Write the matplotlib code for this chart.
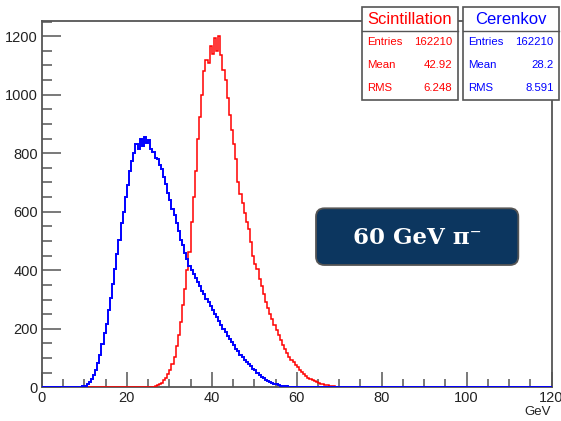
import numpy as np
import matplotlib
matplotlib.use("Agg")
import matplotlib.pyplot as plt
from matplotlib.patches import Rectangle, FancyBboxPatch

# ---------------- data (counts per 0.5 GeV bin) ----------------
bin_width = 0.5
x_min, x_max = 0.0, 120.0

scint_start = 25.0  # GeV, left edge of first listed bin
scint_counts = [
    1, 1, 2, 4, 7, 10, 16, 24, 33, 44, 58, 78, 105, 140, 180, 222,
    280, 335, 400, 462, 565, 650, 740, 850, 925, 1000, 1080, 1120,
    1110, 1165, 1140, 1195, 1150, 1200, 1135, 1085, 1050, 990, 930, 880,
    830, 780, 700, 660, 630, 595, 565, 540, 495, 450, 420, 405, 370, 345,
    320, 292, 272, 252, 232, 212, 195, 178, 160, 145, 130, 118, 104, 95,
    85, 76, 70, 60, 52, 45, 38, 33, 28, 24, 21, 17, 15, 12, 10, 8,
    7, 5, 4, 3, 2, 2, 1, 1, 0, 0,
]

ceren_start = 8.0
ceren_counts = [
    0, 1, 1, 3, 6, 11, 18, 28, 42, 58, 82, 112, 148, 185, 215, 265,
    305, 352, 405, 455, 505, 560, 600, 650, 690, 738, 775, 800, 830, 815,
    850, 825, 855, 835, 845, 815, 805, 785, 780, 760, 745, 720, 695, 665,
    640, 610, 590, 560, 535, 505, 485, 460, 440, 415, 402, 388, 375, 360,
    345, 330, 318, 302, 290, 278, 265, 252, 240, 226, 212, 200, 188, 176,
    166, 154, 144, 132, 124, 112, 104, 95, 88, 80, 72, 64, 58, 50,
    42, 36, 32, 26, 22, 18, 15, 12, 10, 8, 6, 5, 4, 3, 2, 2, 1, 1, 0, 0,
]

stat_labels = ["Entries", "Mean", "RMS"]
scint_title = "Scintillation"
scint_stats = ["162210", "42.92", "6.248"]
ceren_title = "Cerenkov"
ceren_stats = ["162210", "28.2", "8.591"]

x_ticks = [0, 20, 40, 60, 80, 100, 120]
y_ticks = [0, 200, 400, 600, 800, 1000, 1200]
y_max = 1252
x_title = "GeV"
badge_text = "60 GeV π⁻"

# ---------------- build histograms ----------------
edges = np.arange(x_min, x_max + bin_width / 2, bin_width)
nbins = len(edges) - 1

def full_hist(start, counts):
    h = np.zeros(nbins)
    i0 = int(round((start - x_min) / bin_width))
    h[i0:i0 + len(counts)] = counts
    return h

scint_h = full_hist(scint_start, scint_counts)
ceren_h = full_hist(ceren_start, ceren_counts)

# ---------------- figure ----------------
W, H = 561, 421
fig = plt.figure(figsize=(W / 100, H / 100), dpi=100)
plt.rcParams['font.family'] = ['Liberation Sans', 'DejaVu Sans']

def fx(px):
    return px / W

def fy(py):
    return 1 - py / H

ax_l, ax_r, ax_t, ax_b = 42, 551.5, 21, 387.3
ax = fig.add_axes([fx(ax_l), fy(ax_b), (ax_r - ax_l) / W, (ax_b - ax_t) / H])

ax.stairs(scint_h, edges, color="#ff0000", lw=1.1, zorder=3)
ax.stairs(ceren_h, edges, color="#0000ff", lw=1.4, zorder=4)

ax.set_xlim(x_min, x_max)
ax.set_ylim(0, y_max)
ax.set_xticks(x_ticks)
ax.set_yticks(y_ticks)
ax.set_xticks(np.arange(0, 121, 5), minor=True)
ax.set_yticks(np.arange(0, 1251, 50), minor=True)
ax.tick_params(which="both", direction="in", colors="#555555",
               labelcolor="#222222", labelsize=10.5, width=1.1,
               top=False, right=False)
ax.tick_params(axis="y", which="major", length=14, pad=3)
ax.tick_params(axis="y", which="minor", length=7)
ax.tick_params(axis="x", which="major", length=11, pad=3)
ax.tick_params(axis="x", which="minor", length=6)
for s in ax.spines.values():
    s.set_color("#555555")
    s.set_linewidth(1.3)

fig.text(fx(551), fy(412), x_title, ha="right", va="center",
         fontsize=9.5, color="#222222")

# ---------------- stats boxes ----------------
def stats_box(x0, x1, color, title, values):
    y0, y1, ysep = 7.3, 99.5, 30.7
    fig.patches.append(Rectangle((fx(x0), fy(y1)), (x1 - x0) / W, (y1 - y0) / H,
                                 transform=fig.transFigure, facecolor="white",
                                 edgecolor="#555555", lw=1.2, zorder=10))
    fig.lines.append(plt.Line2D([fx(x0), fx(x1)], [fy(ysep), fy(ysep)],
                                transform=fig.transFigure, color="#555555",
                                lw=1.0, zorder=11))
    fig.text(fx((x0 + x1) / 2), fy(19.3), title, ha="center", va="center",
             fontsize=12, color=color, zorder=12)
    for lab, val, yy in zip(stat_labels, values, [42.3, 65.0, 88.3]):
        fig.text(fx(x0 + 5.5), fy(yy), lab, ha="left", va="center",
                 fontsize=8.2, color=color, zorder=12)
        fig.text(fx(x1 - 5.5), fy(yy), val, ha="right", va="center",
                 fontsize=8.2, color=color, zorder=12)

stats_box(361.7, 457.7, "#ff0000", scint_title, scint_stats)
stats_box(463.0, 559.0, "#0000ff", ceren_title, ceren_stats)

# ---------------- badge ----------------
bx0, bx1, by0, by1 = 316, 518.3, 208.3, 265
fig.patches.append(FancyBboxPatch((fx(bx0), fy(by1)), (bx1 - bx0) / W, (by1 - by0) / H,
                                  boxstyle="round,pad=0,rounding_size=0.015",
                                  transform=fig.transFigure, facecolor="#0c365f",
                                  edgecolor="#555555", lw=1.3, zorder=10,
                                  mutation_aspect=W / H))
fig.text(fx((bx0 + bx1) / 2), fy((by0 + by1) / 2 + 1), badge_text,
         ha="center", va="center", fontsize=16.5, fontweight="bold",
         color="white", family=["DejaVu Serif", "DejaVu Sans"], zorder=12)

fig.savefig("out.png", dpi=100)
